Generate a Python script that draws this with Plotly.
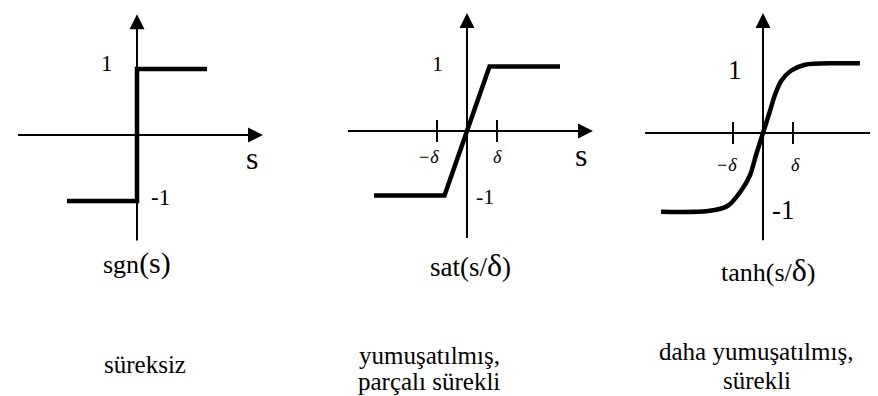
import plotly.graph_objects as go

W, H = 878, 396

# ---- data (x in units of delta / step width, y in units of the saturation level)
sgn_x = [-1.0, 0.0, 0.0, 1.0]
sgn_y = [-1.0, -1.0, 1.0, 1.0]

sat_x = [-3.1, -0.75, 0.75, 3.1]
sat_y = [-1.0, -1.0, 1.0, 1.0]

tanh_x = [-3.4, -1.83, -1.17, -0.73, -0.43, -0.23, 0.0, 0.23, 0.4, 0.6, 0.93, 1.4, 2.4, 3.23]
tanh_y = [-1.05, -1.04, -0.97, -0.77, -0.56, -0.29, 0.0, 0.29, 0.51, 0.69, 0.83, 0.91, 0.93, 0.93]

delta_ticks = [-1.0, 1.0]
delta_labels = ["<i>\u2212\u03b4</i>", "<i>\u03b4</i>"]

titles = ["sgn<span style='font-size:30px'>(s)</span>",
          "sat(s/<span style='font-size:32px'>\u03b4</span>)",
          "tanh(s/<span style='font-size:32px'>\u03b4</span>)"]
captions = [["s\u00fcreksiz"], ["yumu\u015fat\u0131lm\u0131\u015f,", "par\u00e7al\u0131 s\u00fcrekli"],
            ["daha yumu\u015fat\u0131lm\u0131\u015f,", "s\u00fcrekli"]]

# ---- layout geometry of each panel (pixel origin, pixel per unit, axis extents in units)
panels = [
    dict(ox=129, oy=127, sx=70, sy=66, xmin=-1.7, xtip=1.8, ymin=-1.6, ytip=1.83, ticks=False),
    dict(ox=459, oy=123, sx=30, sy=64.5, xmin=-3.97, xtip=4.2, ymin=-1.66, ytip=1.83, ticks=True),
    dict(ox=755, oy=125, sx=30, sy=75, xmin=-3.93, xtip=4.2, ymin=-1.43, ytip=1.6, ticks=True),
]
curves = [(sgn_x, sgn_y, "linear"), (sat_x, sat_y, "linear"), (tanh_x, tanh_y, "spline")]

FONT = "Liberation Serif"
fig = go.Figure()
layout = dict(width=W, height=H, margin=dict(l=0, r=0, t=0, b=0),
              paper_bgcolor="white", plot_bgcolor="rgba(0,0,0,0)", showlegend=False,
              font=dict(family=FONT, color="black"))
annotations = []

for i, p in enumerate(panels):
    sfx = "" if i == 0 else str(i + 1)
    xa, ya = "x" + sfx, "y" + sfx
    xr = [-p["ox"] / p["sx"], (W - p["ox"]) / p["sx"]]
    yr = [-(H - p["oy"]) / p["sy"], p["oy"] / p["sy"]]
    ax = dict(range=xr, visible=False, domain=[0, 1], anchor=ya)
    ay = dict(range=yr, visible=False, domain=[0, 1], anchor=xa)
    if i > 0:
        ax["overlaying"] = "x"
        ay["overlaying"] = "y"
    layout["xaxis" + sfx] = ax
    layout["yaxis" + sfx] = ay

    back_x = 12 / p["sx"]
    back_y = 12 / p["sy"]
    # axis lines
    fig.add_trace(go.Scatter(x=[p["xmin"], p["xtip"] - back_x, None, 0, 0],
                             y=[0, 0, None, p["ymin"], p["ytip"] - back_y],
                             mode="lines", line=dict(color="black", width=2),
                             xaxis=xa, yaxis=ya, hoverinfo="skip"))
    # arrow heads
    fig.add_trace(go.Scatter(x=[p["xtip"], 0], y=[0, p["ytip"]], mode="markers",
                             marker=dict(symbol=["arrow-right", "arrow-up"], size=15,
                                         color="black", line=dict(width=0)),
                             xaxis=xa, yaxis=ya, hoverinfo="skip"))
    if p["ticks"]:
        th = 11 / p["sy"]
        tx, ty = [], []
        for t in delta_ticks:
            tx += [t, t, None]
            ty += [-th, th, None]
        fig.add_trace(go.Scatter(x=tx, y=ty, mode="lines", line=dict(color="black", width=2),
                                 xaxis=xa, yaxis=ya, hoverinfo="skip"))
    cx, cy, shp = curves[i]
    fig.add_trace(go.Scatter(x=cx, y=cy, mode="lines",
                             line=dict(color="black", width=4.5, shape=shp, smoothing=0.8),
                             xaxis=xa, yaxis=ya, hoverinfo="skip"))

def ann(text, x, y, xref, yref, size):
    annotations.append(dict(text=text, x=x, y=y, xref=xref, yref=yref, showarrow=False,
                            xanchor="center", yanchor="middle",
                            font=dict(family=FONT, size=size, color="black")))

# panel 1 labels
ann("1", -0.43, 1.08, "x", "y", 23)
ann("-1", 0.34, -0.94, "x", "y", 23)
ann("s", 1.64, -0.35, "x", "y", 32)
ann(titles[0], 0.0, -1.94, "x", "y", 26)
# panel 2 labels
ann("1", -0.97, 1.05, "x2", "y2", 22)
ann("-1", 0.6, -1.02, "x2", "y2", 22)
ann(delta_labels[0], -1.3, -0.4, "x2", "y2", 18)
ann(delta_labels[1], 1.03, -0.4, "x2", "y2", 18)
ann("s", 3.8, -0.37, "x2", "y2", 32)
ann(titles[1], 0.1, -2.08, "x2", "y2", 27)
# panel 3 labels
ann("1", -0.93, 0.84, "x3", "y3", 27)
ann("-1", 0.67, -1.03, "x3", "y3", 27)
ann(delta_labels[0], -1.23, -0.43, "x3", "y3", 18)
ann(delta_labels[1], 1.07, -0.43, "x3", "y3", 18)
ann("s", 3.93, -0.24, "x3", "y3", 32)
ann(titles[2], 0.17, -1.83, "x3", "y3", 26)

# captions
cap_pos = [[(137, 356)], [(421, 347), (421, 373)], [(748, 343), (749, 372)]]
for lines, pos in zip(captions, cap_pos):
    for t, (px, py) in zip(lines, pos):
        ann(t, px / W, 1 - py / H, "paper", "paper", 25)

layout["annotations"] = annotations
fig.update_layout(**layout)
fig.write_html("out.html")
